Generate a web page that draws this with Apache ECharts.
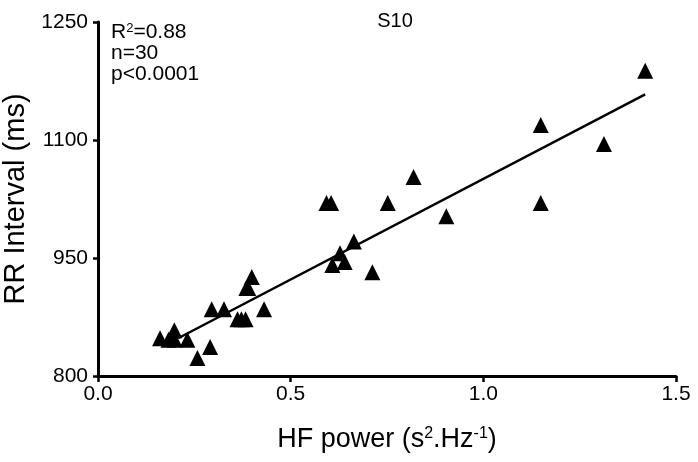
<!DOCTYPE html>
<html><head><meta charset="utf-8">
<script src="https://cdn.jsdelivr.net/npm/echarts@6/dist/echarts.min.js"></script>
<style>html,body{margin:0;padding:0;background:#fff}#c{width:698px;height:462px}</style>
</head><body><div id="c"></div>
<script>
const hfPower = [0.161,0.183,0.199,0.198,0.232,0.258,0.291,0.295,0.327,0.362,0.372,0.383,0.431,0.399,0.390,0.385,0.608,0.628,0.640,0.664,0.712,0.593,0.605,0.752,0.819,0.904,1.149,1.149,1.313,1.420];
const rrInterval = [848,846,846,858,846,823,837,885,885,872,872,872,885,926,912,912,941,956,945,971,932,1020,1020,1020,1053,1003,1020,1119,1095,1188];
const fitX = [0.208, 1.420];
const fitY = [848, 1158];
const yTicks = [800, 950, 1100, 1250];
const xTicks = [0, 0.5, 1.0, 1.5];
const titleText = 'S10';

const font = '"Liberation Sans", Arial, sans-serif';
const chart = echarts.init(document.getElementById('c'), null, {renderer:'canvas'});
chart.setOption({
  backgroundColor:'#fff',
  animation:false,
  grid:{left:98,right:22,top:22,bottom:86,containLabel:false,outerBoundsMode:'none'},
  title:{text:titleText,left:390,top:6,textAlign:'center',textStyle:{fontFamily:font,fontSize:20,fontWeight:'normal',color:'#000'}},
  graphic:[{
    type:'text',left:111,top:22,
    style:{
      text:'{a|R}{s|2}{a|=0.88}\n{a|n=30}\n{a|p<0.0001}',
      rich:{
        a:{fontFamily:font,fontSize:21,color:'#000',lineHeight:21},
        s:{fontFamily:font,fontSize:13,color:'#000',verticalAlign:'top',lineHeight:21,padding:[0,0,8,0]}
      }
    }
  }],
  xAxis:{
    type:'value',min:0,max:1.5,interval:0.5,
    name:'{a|HF power (s}{s|2}{a|.Hz}{s|-1}{a|)}',nameLocation:'middle',nameGap:50,
    nameTextStyle:{rich:{a:{fontFamily:font,fontSize:27,color:'#000'},s:{fontFamily:font,fontSize:16,color:'#000',verticalAlign:'top',padding:[0,0,12,0]}}},
    axisLine:{show:true,onZero:false,lineStyle:{color:'#000',width:3}},
    axisTick:{show:true,length:6,lineStyle:{color:'#000',width:2.5}},
    axisLabel:{fontFamily:font,fontSize:21,color:'#000',margin:8,formatter:v=>v.toFixed(1),customValues:xTicks},
    splitLine:{show:false}
  },
  yAxis:{
    type:'value',min:800,max:1250,
    name:'RR Interval (ms)',nameLocation:'middle',nameGap:66,
    nameTextStyle:{fontFamily:font,fontSize:29,color:'#000'},
    axisLine:{show:true,onZero:false,lineStyle:{color:'#000',width:3}},
    axisTick:{show:true,length:5,lineStyle:{color:'#000',width:2.5},customValues:yTicks},
    axisLabel:{fontFamily:font,fontSize:21,color:'#000',margin:10,formatter:v=>String(v),customValues:yTicks},
    splitLine:{show:false}
  },
  series:[{
    type:'scatter',
    data:hfPower.map((x,i)=>[x,rrInterval[i]]),
    symbol:'triangle',symbolSize:16,
    itemStyle:{color:'#000',opacity:1},z:3
  },{
    type:'line',
    data:fitX.map((x,i)=>[x,fitY[i]]),
    symbol:'none',lineStyle:{color:'#000',width:2.5},z:2
  }]
});
</script></body></html>
